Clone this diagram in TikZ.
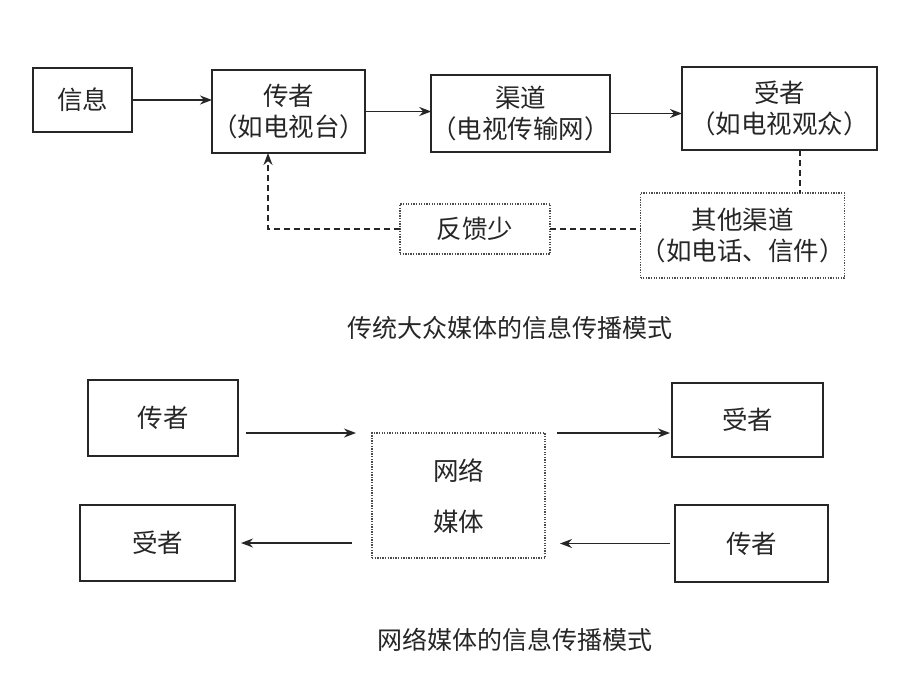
\documentclass[tikz,border=0pt]{standalone}
\usepackage{fontspec}
\setmainfont{Noto Sans CJK SC}
\usetikzlibrary{arrows.meta}
\begin{document}
\begin{tikzpicture}[x=1pt,y=-1pt,
  txt/.style={font=\fontsize{25.5pt}{31pt}\selectfont, text=black!85},
  box/.style={txt, draw=black!85, line width=1.8pt, inner sep=0pt, outer sep=0pt, align=center},
  dotbox/.style={txt, draw=black!70, line width=1.1pt, dash pattern=on 1.3pt off 1.3pt, inner sep=0pt, outer sep=0pt, align=center},
  arr/.style={draw=black!85, line width=1.7pt, -{Stealth[length=12pt,width=9pt]}},
  dashline/.style={draw=black!85, line width=1.7pt, dash pattern=on 6pt off 4pt},
  captext/.style={font=\fontsize{25pt}{30pt}\selectfont, text=black!85}
]
\useasboundingbox (0,0) rectangle (910,686);
% top diagram
\node[box, minimum width=99pt, minimum height=64pt] (info) at (82.5,100) {信息};
\node[box, minimum width=153pt, minimum height=83pt] (send) at (288.5,111.5) {传者\\（如电视台）};
\node[box, minimum width=175pt, minimum height=77pt] (chan) at (520.5,113.5) {渠道\\（电视传输网）};
\node[box, minimum width=195pt, minimum height=83pt] (recv) at (779.5,108.5) {受者\\（如电视观众）};
\node[dotbox, minimum width=150pt, minimum height=50pt] (fb) at (475,229) {反馈少};
\node[dotbox, minimum width=195pt, minimum height=85pt] (other) at (742.5,235.5) {其他渠道\\（如电话、信件）};
\draw[arr] (info.east) -- (info.east -| send.west);
\draw[arr] (send.east) -- (send.east -| chan.west);
\draw[arr] (chan.east) -- (chan.east -| recv.west);
\draw[dashline] ([xshift=20.5pt]recv.south) -- ([xshift=20.5pt]recv.south |- other.north);
\draw[dashline] (fb.east) -- (fb.east -| other.west);
\draw[dashline, -{Stealth[length=12pt,width=9pt]}] (fb.west) -| ([xshift=-20.5pt]send.south);
\node[captext] (cap1) at (510,328) {传统大众媒体的信息传播模式};
% bottom diagram
\node[box, minimum width=150pt, minimum height=76pt] (tl) at (163,418) {传者};
\node[box, minimum width=155pt, minimum height=76pt] (bl) at (157.5,543) {受者};
\node[dotbox, minimum width=173pt, minimum height=125pt] (mid) at (458.5,495.5) {\\[-8pt]网络\\[20pt]媒体};
\node[box, minimum width=151pt, minimum height=74pt] (tr) at (747.5,420) {受者};
\node[box, minimum width=153pt, minimum height=77pt] (br) at (751.5,543.5) {传者};
\draw[arr, shorten <=8pt, shorten >=16pt] (tl.east |- mid.north) -- (mid.north west);
\draw[arr, shorten <=12pt, shorten >=2pt] (mid.north east) -- (mid.north east -| tr.west);
\draw[arr, shorten <=5pt, shorten >=15pt] (br.west) -- (br.west -| mid.east);
\draw[arr, shorten <=20pt, shorten >=6pt] (bl.east -| mid.west) -- (bl.east);
\node[captext] (cap2) at (515,640) {网络媒体的信息传播模式};
\end{tikzpicture}
\end{document}
